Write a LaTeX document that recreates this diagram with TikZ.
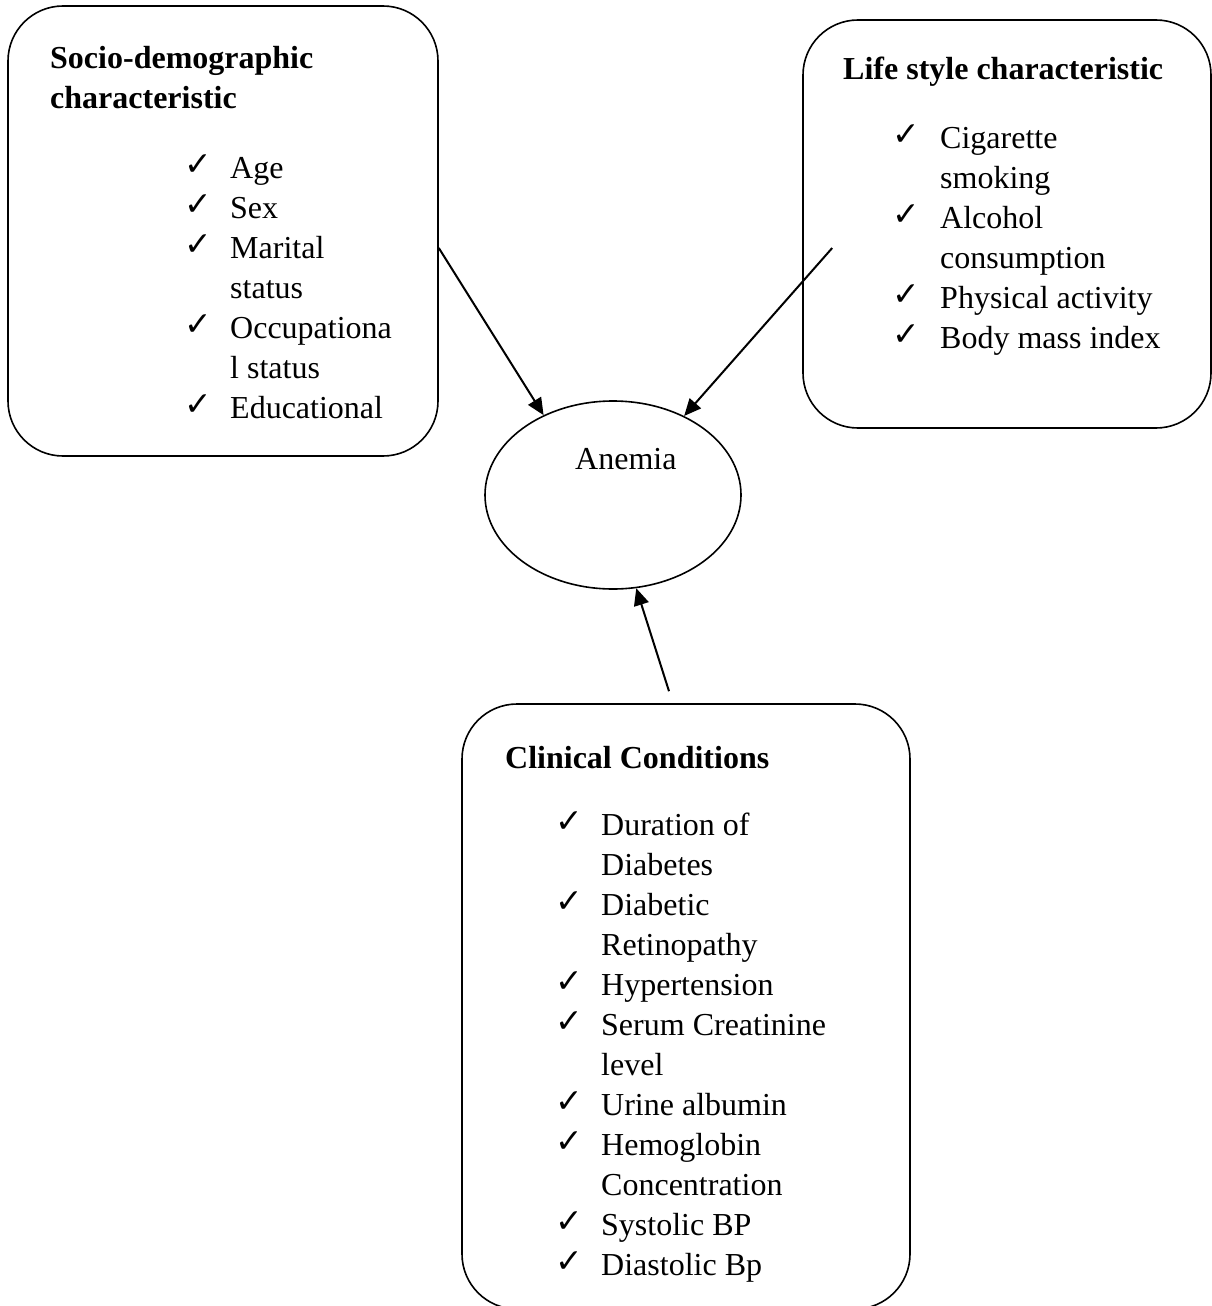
\documentclass[tikz,border=0pt]{standalone}
\usepackage{fontspec}
\setmainfont{Liberation Serif}
\newfontfamily\symfont{DejaVu Sans}
\usepackage{tikz}
\usetikzlibrary{shapes.geometric, arrows.meta}
\tikzstyle{infobox} = [rectangle, rounded corners=55pt, draw=black, line width=1.6pt, inner sep=0pt]
\tikzstyle{outcome} = [ellipse, draw=black, line width=1.6pt, inner sep=0pt, minimum width=256pt, minimum height=188pt]
\tikzstyle{heading} = [anchor=base west, inner sep=0pt, font=\fontsize{32}{40}\selectfont\bfseries]
\tikzstyle{items} = [anchor=base west, inner sep=0pt]
\tikzstyle{arrow} = [line width=2pt, -{Triangle[length=17pt, width=15pt]}]
\newcommand{\tick}{\raisebox{3pt}{\symfont\fontsize{33}{33}\selectfont ✓}}

\begin{document}
\begin{tikzpicture}[x=1pt, y=-1pt, font=\fontsize{32}{40}\selectfont]
    \useasboundingbox (0,0) rectangle (1212,1306);

    \node (socio) [infobox, minimum width=430pt, minimum height=450pt] at (223,231) {};
    \node (life) [infobox, minimum width=408pt, minimum height=408pt] at (1007,224) {};
    \node (clinical) [infobox, minimum width=448pt, minimum height=605pt] at (686,1006.5) {};
    \node (anemia) [outcome] at (613,495) {};
    \node (anemia_text) [items] at (575,469) {Anemia};

    \node (socio_head) [heading] at (50,68)
    {\begin{tabular}[t]{@{}l@{}}Socio-demographic\\ characteristic\end{tabular}};
    \node (socio_list) [items] at (184,178)
    {\begin{tabular}[t]{@{}p{46pt}@{}l@{}}
        \tick & Age\\ \tick & Sex\\ \tick & Marital\\ & status\\
        \tick & Occupationa\\ & l status\\ \tick & Educational
    \end{tabular}};

    \node (life_head) [heading] at (843,80) {Life style characteristic};
    \node (life_list) [items] at (892,148)
    {\begin{tabular}[t]{@{}p{48pt}@{}l@{}}
        \tick & Cigarette\\ & smoking\\ \tick & Alcohol\\ & consumption\\
        \tick & Physical activity\\ \tick & Body mass index
    \end{tabular}};

    \node (clinical_head) [heading] at (505,768) {Clinical Conditions};
    \node (clinical_list) [items] at (555,835)
    {\begin{tabular}[t]{@{}p{46pt}@{}l@{}}
        \tick & Duration of\\ & Diabetes\\ \tick & Diabetic\\ & Retinopathy\\
        \tick & Hypertension\\ \tick & Serum Creatinine\\ & level\\
        \tick & Urine albumin\\ \tick & Hemoglobin\\ & Concentration\\
        \tick & Systolic BP\\ \tick & Diastolic Bp
    \end{tabular}};

    \draw [arrow] ([yshift=-17pt]socio.east) -- (anemia.131);
    \draw [arrow] ([xshift=30pt, yshift=-24pt]life.west) -- (anemia.48);
    \draw [arrow] ([xshift=-17pt, yshift=12pt]clinical.north) -- (anemia.284);
\end{tikzpicture}
\end{document}
